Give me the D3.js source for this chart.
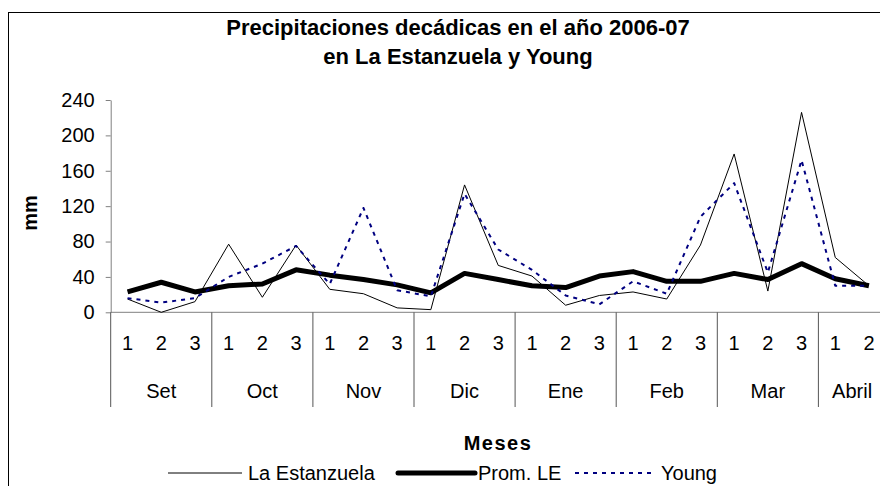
<!DOCTYPE html>
<html>
<head>
<meta charset="utf-8">
<script src="https://cdn.jsdelivr.net/npm/d3@7"></script>
<style>
  body { margin: 0; background: #fff; }
  svg { display: block; font-family: "Liberation Sans", Arial, sans-serif; }
</style>
</head>
<body>
<svg id="chart" width="880" height="486"></svg>
<script>
// months on the x axis and how many decades (10-day periods) each one has
const months = ["Set", "Oct", "Nov", "Dic", "Ene", "Feb", "Mar", "Abril"];
const decadesPerMonth = [3, 3, 3, 3, 3, 3, 3, 2];

// rainfall per decade, mm
const laEstanzuela = [15, 0, 12, 77, 17, 76, 26, 21, 5, 3, 144, 53, 41, 8, 19, 23, 15, 76, 179, 24, 226, 62, 30];
const promLE = [23, 34, 23, 30, 32, 48, 42, 37, 31, 22, 44, 37, 30, 28, 41, 46, 35, 35, 44, 37, 55, 38, 30];
const young = [16, 11, 16, 40, 55, 75, 32, 118, 25, 18, 134, 71, 48, 19, 9, 35, 21, 108, 146, 45, 172, 30, 30];

const yTicks = [0, 40, 80, 120, 160, 200, 240];

// category list: one entry per decade
let cats = [];
months.forEach((m, mi) => {
    for (let d = 1; d <= decadesPerMonth[mi]; d++) cats.push({month: m, dec: String(d), idx: cats.length});
});

let svg = d3.select("#chart");

let x = d3.scaleBand()
    .domain(cats.map(c => c.idx))
    .range([110.7, 885.8])
    .padding(0);

let y = d3.scaleLinear()
    .domain([0, 240])
    .range([312.3, 100]);

let bw = x.bandwidth();

// outer chart border (right and bottom sides fall outside the picture)
svg.append("rect")
    .attr("x", 8.5).attr("y", 12.5)
    .attr("width", 920).attr("height", 500)
    .attr("fill", "none").attr("stroke", "#000");

// title
let title = svg.append("text")
    .attr("text-anchor", "middle")
    .attr("font-weight", "bold")
    .attr("font-size", 22);
title.append("tspan").attr("x", 458).attr("y", 35).text("Precipitaciones decádicas en el año 2006-07");
title.append("tspan").attr("x", 458).attr("y", 64).text("en La Estanzuela y Young");

// y axis
let yAxis = svg.append("g")
    .attr("transform", `translate(${x.range()[0]},0)`)
    .call(d3.axisLeft(y).tickValues(yTicks).tickSize(5).tickSizeOuter(0).tickPadding(11));
yAxis.select(".domain").attr("stroke", "#808080");
yAxis.selectAll(".tick line").attr("stroke", "#808080");
yAxis.selectAll(".tick text")
    .attr("font-family", "Liberation Sans, Arial, sans-serif")
    .attr("font-size", 20).attr("fill", "#000");

svg.append("text")
    .attr("transform", "translate(37,213) rotate(-90)")
    .attr("text-anchor", "middle")
    .attr("font-weight", "bold")
    .attr("font-size", 20)
    .text("mm");

// x axis: baseline plus month boxes
svg.append("line")
    .attr("x1", x.range()[0]).attr("x2", x.range()[1])
    .attr("y1", y(0)).attr("y2", y(0))
    .attr("stroke", "#808080");

let bounds = [0];
decadesPerMonth.forEach(n => bounds.push(bounds[bounds.length - 1] + n));

svg.append("g")
    .selectAll("line")
    .data(bounds)
    .join("line")
    .attr("x1", b => x.range()[0] + b * x.step())
    .attr("x2", b => x.range()[0] + b * x.step())
    .attr("y1", y(0)).attr("y2", 407)
    .attr("stroke", "#555");

svg.append("g")
    .attr("font-size", 20)
    .attr("text-anchor", "middle")
    .selectAll("text")
    .data(cats)
    .join("text")
    .attr("x", c => x(c.idx) + bw / 2)
    .attr("y", 350)
    .text(c => c.dec);

svg.append("g")
    .attr("font-size", 20)
    .attr("text-anchor", "middle")
    .selectAll("text")
    .data(months)
    .join("text")
    .attr("x", (m, i) => x.range()[0] + (bounds[i] + bounds[i + 1]) / 2 * x.step())
    .attr("y", 398)
    .text(m => m);

svg.append("text")
    .attr("x", 498).attr("y", 450)
    .attr("text-anchor", "middle")
    .attr("font-weight", "bold")
    .attr("font-size", 20)
    .attr("letter-spacing", 1.5)
    .text("Meses");

// series
let series = [
    {name: "La Estanzuela", values: laEstanzuela, color: "#000", width: 1, dash: null},
    {name: "Prom. LE", values: promLE, color: "#000", width: 5, dash: null},
    {name: "Young", values: young, color: "#000080", width: 2, dash: "4,5"}
];

let line = d3.line()
    .x((v, i) => x(i) + bw / 2)
    .y(v => y(v));

svg.append("g")
    .selectAll("path")
    .data(series)
    .join("path")
    .attr("d", s => line(s.values))
    .attr("fill", "none")
    .attr("stroke", s => s.color)
    .attr("stroke-width", s => s.width)
    .attr("stroke-dasharray", s => s.dash)
    .attr("stroke-linejoin", "round");

// legend: sample line then label, each entry at its own start
let legendStart = [168, 398, 575];
let legendLen = [74, 77, 80];
let legend = svg.append("g").attr("font-size", 20);
series.forEach((s, i) => {
    let lx = legendStart[i];
    legend.append("line")
        .attr("x1", lx).attr("x2", lx + legendLen[i])
        .attr("y1", 473).attr("y2", 473)
        .attr("stroke", s.color)
        .attr("stroke-width", s.width)
        .attr("stroke-dasharray", s.dash)
        .attr("stroke-linecap", s.width > 2 ? "round" : "butt");
    legend.append("text")
        .attr("x", lx + legendLen[i] + (s.width > 2 ? 3 : 6)).attr("y", 480)
        .text(s.name);
});
</script>
</body>
</html>
